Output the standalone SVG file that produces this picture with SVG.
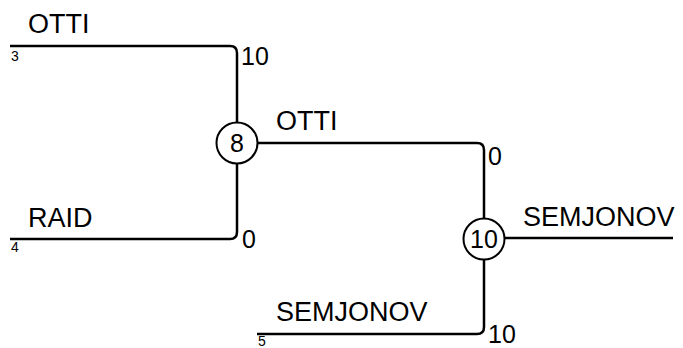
<svg xmlns="http://www.w3.org/2000/svg" width="683" height="348" viewBox="0 0 683 348">
<style>
.ln{fill:none;stroke:#000;stroke-width:2.5}
.nd{fill:#fff;stroke:#000;stroke-width:2}
text{font-family:"Liberation Sans",Arial,sans-serif;fill:#000}
.lb{font-size:27px}
.dg{font-size:25px}
.sm{font-size:14px}
.nt{font-size:25px;text-anchor:middle}
</style>
<rect width="683" height="348" fill="#fff"/>
<g id="connectors">
<path class="ln" d="M10,46 H230 Q237,46 237,53 V143"/>
<path class="ln" d="M10,239 H230 Q237,239 237,232 V143"/>
<path class="ln" d="M237,143 H477 Q484,143 484,150 V239"/>
<path class="ln" d="M257,334 H477 Q484,334 484,327 V239"/>
<path class="ln" d="M484,238 H673"/>
</g>
<g id="labels">
<text class="lb" x="28" y="33">OTTI</text>
<text class="sm" x="11" y="61">3</text>
<text class="dg" x="241" y="65">10</text>
<text class="lb" x="28" y="227">RAID</text>
<text class="sm" x="11" y="252">4</text>
<text class="dg" x="242" y="248">0</text>
<text class="lb" x="276" y="130">OTTI</text>
<text class="dg" x="488" y="165">0</text>
<text class="lb" x="523" y="226">SEMJONOV</text>
<text class="lb" x="276" y="321">SEMJONOV</text>
<text class="sm" x="258" y="346">5</text>
<text class="dg" x="488" y="343">10</text>
</g>
<g id="node8">
<circle class="nd" cx="237" cy="143" r="20.5"/>
<text class="nt" x="237" y="152">8</text>
</g>
<g id="node10">
<circle class="nd" cx="484" cy="239" r="20.5"/>
<text class="nt" x="484" y="248">10</text>
</g>
</svg>
